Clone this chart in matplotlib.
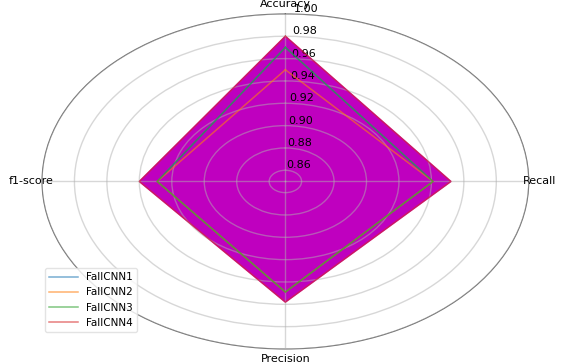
import numpy as np
from matplotlib import pyplot as plt

metrics = ['Accuracy', 'Recall', 'Precision', 'f1-score']
models = ['FallCNN1', 'FallCNN2', 'FallCNN3', 'FallCNN4']
fallcnn1 = [0.970, 0.941, 0.949, 0.929]
fallcnn2 = [0.950, 0.941, 0.949, 0.929]
fallcnn3 = [0.970, 0.941, 0.949, 0.929]
fallcnn4 = [0.980, 0.952, 0.958, 0.940]
scores = [fallcnn1, fallcnn2, fallcnn3, fallcnn4]
colors = ['tab:blue', 'tab:orange', 'tab:green', 'tab:red']

angles = np.linspace(0, 2 * np.pi, len(metrics), endpoint=False)
angles_c = np.append(angles, angles[0])

fig = plt.figure(figsize=(5.66, 3.63), dpi=100)
ax = fig.add_axes([0.0742, 0.0386, 0.860, 0.923], projection='polar')
ax.set_aspect('auto')
ax.set_theta_offset(np.pi / 2)
ax.set_theta_direction(-1)

# filled area of the best model
vals4 = np.append(fallcnn4, fallcnn4[0])
ax.fill(angles_c, vals4, color='m', alpha=1, zorder=2)

for name, vals, c in zip(models, scores, colors):
    v = np.append(vals, vals[0])
    ax.plot(angles_c, v, color=c, lw=1.1, alpha=0.6, label=name, zorder=3)

ax.set_ylim(0.85, 1.0)
ax.set_yticks([0.86, 0.88, 0.90, 0.92, 0.94, 0.96, 0.98, 1.00])
ax.set_yticklabels(['0.86', '0.88', '0.90', '0.92', '0.94', '0.96', '0.98', '1.00'], fontsize=8)
ax.set_rlabel_position(2)
ax.set_xticks(angles)
ax.set_xticklabels(metrics, fontsize=8)
ax.tick_params(axis='x', pad=-3)
ax.set_axisbelow(False)
ax.grid(color='#b0b0b0', lw=1, alpha=0.5)
ax.spines['polar'].set_color('#707070')

ax.legend(loc='lower left', bbox_to_anchor=(-0.005, 0.035), fontsize=7.5, frameon=True,
          framealpha=0.8, edgecolor='#dddddd', handlelength=2.8)

plt.savefig('out.png', dpi=100)
